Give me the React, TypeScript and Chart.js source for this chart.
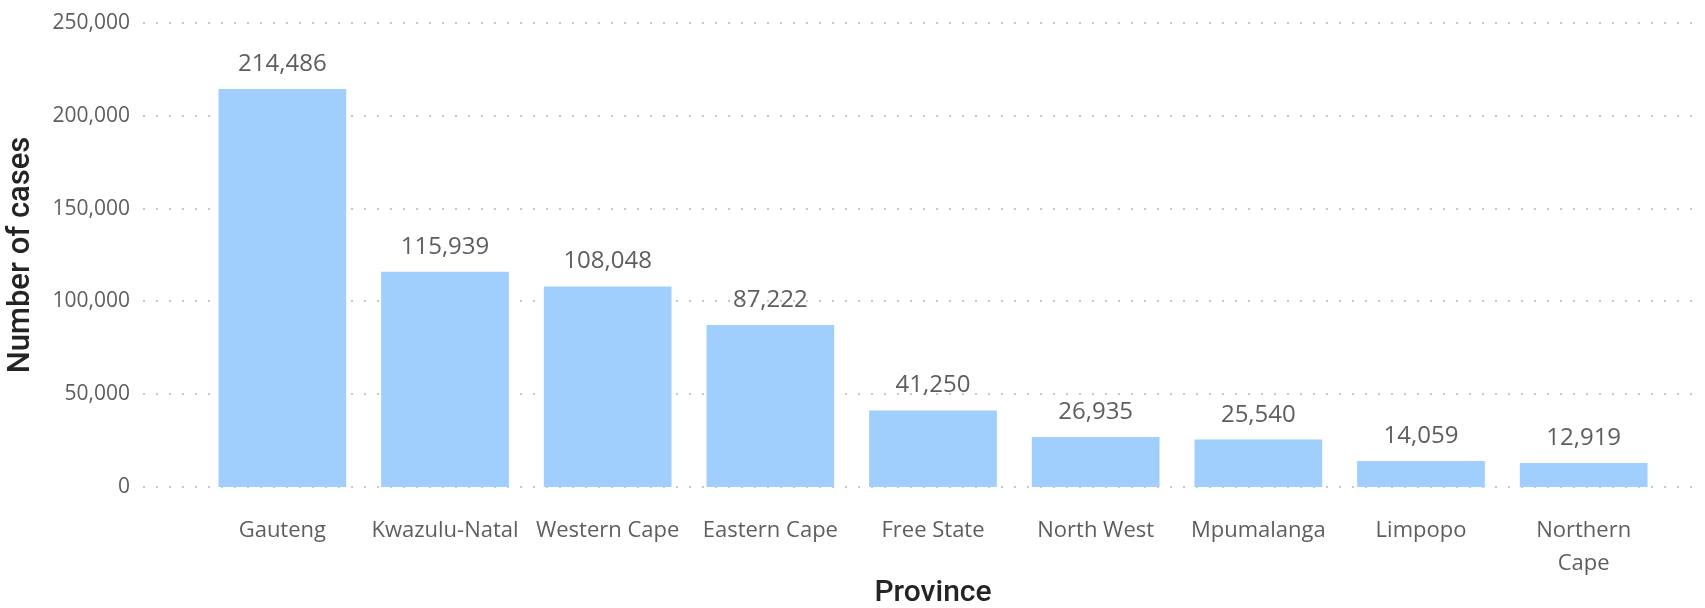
import React, { useEffect, useRef } from "react";
import { Chart, registerables } from "chart.js";

Chart.register(...registerables);

const provinces: (string | string[])[] = [
  "Gauteng",
  "Kwazulu-Natal",
  "Western Cape",
  "Eastern Cape",
  "Free State",
  "North West",
  "Mpumalanga",
  "Limpopo",
  ["Northern", "Cape"],
];
const cases: number[] = [214486, 115939, 108048, 87222, 41250, 26935, 25540, 14059, 12919];
const yTicks: number[] = [0, 50000, 100000, 150000, 200000, 250000];

const TICK_COLOR = "#605E5C";
const TITLE_COLOR = "#252423";
const BAR_COLOR = "#A0CFFE";

const dottedGrid = {
  id: "dottedGrid",
  beforeDatasetsDraw(chart: any) {
    const { ctx, chartArea, scales } = chart;
    const y = scales.y;
    ctx.save();
    ctx.strokeStyle = "#C8C8C8";
    ctx.lineWidth = 2;
    ctx.setLineDash([2, 11]);
    for (const t of yTicks) {
      const py = Math.round(y.getPixelForValue(t));
      ctx.beginPath();
      ctx.moveTo(chartArea.left - 58, py);
      ctx.lineTo(chartArea.right + 38, py);
      ctx.stroke();
    }
    ctx.restore();
  },
};

const dataLabels = {
  id: "dataLabels",
  afterDatasetsDraw(chart: any) {
    const { ctx } = chart;
    const meta = chart.getDatasetMeta(0);
    const data = chart.data.datasets[0].data as number[];
    ctx.save();
    ctx.font = "24px 'Open Sans'";
    ctx.fillStyle = TICK_COLOR;
    ctx.textAlign = "center";
    ctx.textBaseline = "alphabetic";
    meta.data.forEach((el: any, i: number) => {
      ctx.fillText(data[i].toLocaleString("en-US"), el.x, el.y - 18);
    });
    ctx.restore();
  },
};

export default function App() {
  const ref = useRef<HTMLCanvasElement>(null);

  useEffect(() => {
    if (!ref.current) return;
    const chart = new Chart(ref.current, {
      type: "bar",
      data: {
        labels: provinces,
        datasets: [
          {
            data: cases,
            backgroundColor: BAR_COLOR,
            borderWidth: 0,
            barPercentage: 0.785,
            categoryPercentage: 1,
          },
        ],
      },
      options: {
        animation: false,
        responsive: false,
        devicePixelRatio: 1,
        layout: { padding: { top: 23, right: 40, bottom: 0, left: 0 } },
        plugins: {
          legend: { display: false },
          tooltip: { enabled: false },
        },
        scales: {
          x: {
            grid: { display: false, drawTicks: false },
            border: { display: false },
            ticks: {
              color: TICK_COLOR,
              font: { family: "'Open Sans'", size: 22, lineHeight: 1.5 },
              padding: 27,
              maxRotation: 0,
              autoSkip: false,
            },
            title: {
              display: true,
              text: "Province",
              color: TITLE_COLOR,
              font: { family: "Roboto", size: 30, weight: "500", lineHeight: 1 },
              padding: { top: 0, bottom: 0 },
            },
            afterFit(scale: any) {
              scale.height = 121;
              scale.paddingLeft = 0;
              scale.paddingRight = 0;
            },
          },
          y: {
            min: 0,
            max: 250000,
            grid: { display: false, drawTicks: false },
            border: { display: false },
            ticks: {
              stepSize: 50000,
              color: TICK_COLOR,
              font: { family: "'Open Sans'", size: 21 },
              padding: 71,
              callback: (v: any) => Number(v).toLocaleString("en-US"),
            },
            title: {
              display: true,
              text: "Number of cases",
              color: TITLE_COLOR,
              font: { family: "Roboto", size: 31, weight: "500", lineHeight: 1.2 },
              padding: { top: 3, bottom: 0 },
            },
            afterFit(scale: any) {
              scale.width = 201;
              scale.paddingTop = 0;
              scale.paddingBottom = 0;
            },
          },
        },
      },
      plugins: [dottedGrid, dataLabels],
    });
    return () => chart.destroy();
  }, []);

  return (
    <div style={{ position: "absolute", left: 0, top: 0, width: 1705, height: 608, background: "#fff" }}>
      <canvas ref={ref} width={1705} height={608} />
    </div>
  );
}
